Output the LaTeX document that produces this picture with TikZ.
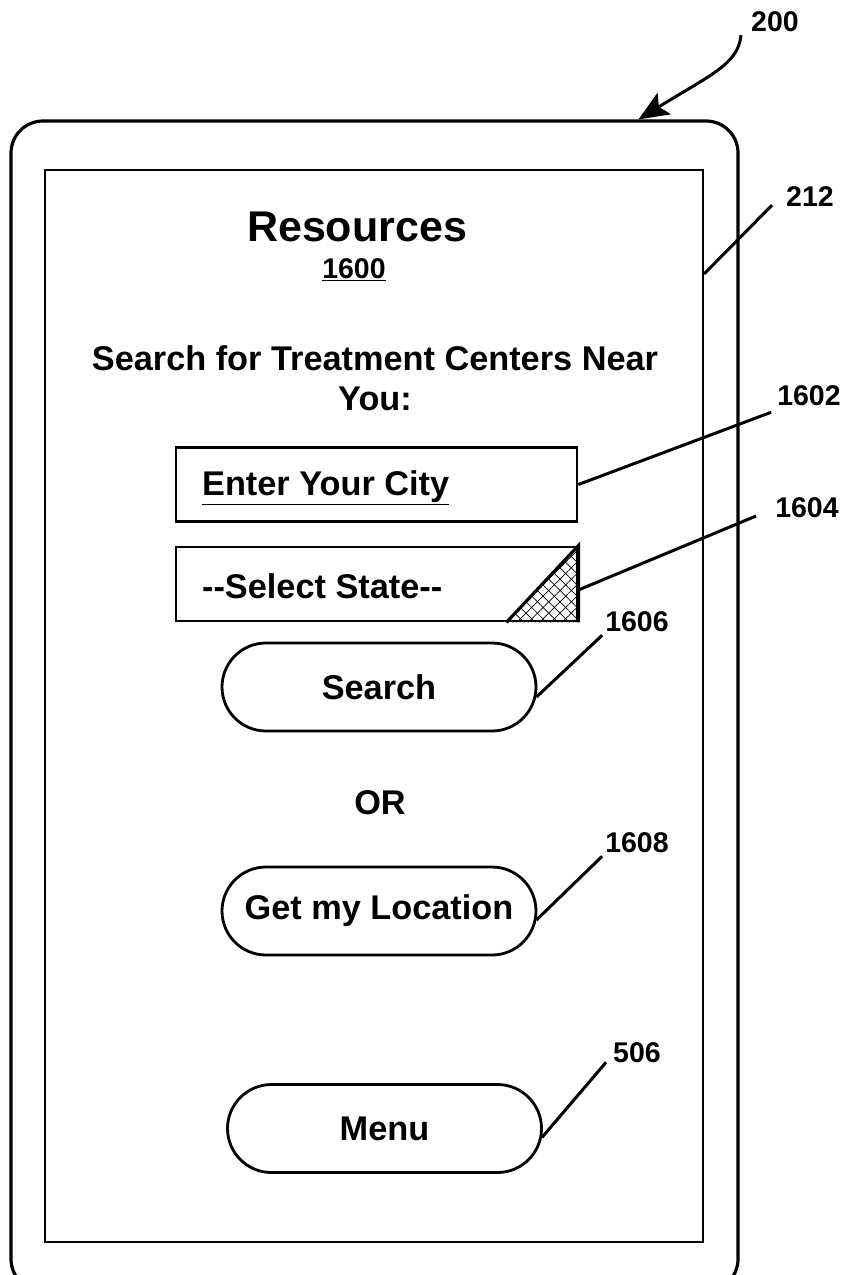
\documentclass[tikz,border=0pt]{standalone}
\usepackage{fontspec}
\setmainfont{Liberation Sans}
\usetikzlibrary{arrows.meta,patterns.meta,positioning}

\begin{document}
\begin{tikzpicture}[x=1pt,y=-1pt,
  every node/.style={font=\fontsize{34.3}{40}\bfseries},
  field/.style={draw,line width=2.8pt,minimum width=401pt,minimum height=74pt,inner sep=0pt},
  pill/.style={draw,line width=2.8pt,minimum width=314pt,minimum height=88pt,rounded corners=44pt},
  refnum/.style={font=\fontsize{28.5}{32}\bfseries,inner sep=3pt},
  leader/.style={line width=3pt}]
\useasboundingbox (0,0) rectangle (845,1275);
\clip (0,0) rectangle (845,1275);

% device and screen
\node[draw,line width=3.2pt,rounded corners=32pt,minimum width=727pt,minimum height=1170pt] (device) at (374.5,706) {};
\node[draw,line width=2.2pt,minimum width=658pt,minimum height=1072pt] (screen) at (374,706) {};

\node[font=\fontsize{43}{48}\bfseries] (title) at (357,227) {Resources};
\node[refnum] (fig) at (354,270) {\underline{1600}};
\node[align=center] (prompt) at (375,378) {Search for Treatment Centers Near\\You:};

% input fields
\node[field] (city) at (376.5,484.5) {};
\node[anchor=west] (citytxt) at ([xshift=24pt,yshift=-3pt]city.west) {\underline{Enter Your City}};
\node[field] (state) at (376.5,584) {};
\node[anchor=west] (statetxt) at ([xshift=24pt,yshift=-2pt]state.west) {\mbox{-}\mbox{-}Select State\mbox{-}\mbox{-}};
\fill[pattern={Lines[angle=45,distance=8pt,line width=0.7pt]}] (state.south east) -- (state.north east) -- ([xshift=-72pt]state.south east) -- cycle;
\fill[pattern={Lines[angle=-45,distance=8pt,line width=0.7pt]}] (state.south east) -- (state.north east) -- ([xshift=-72pt]state.south east) -- cycle;
\draw[line width=3.2pt] ([xshift=-72pt]state.south east) -- (state.north east) -- (state.south east);

% buttons
\node[pill] (search) at (379,687) {Search};
\node (or) at (380,803) {OR};
\node[pill] (locate) at (379,911) {Get my Location};
\node[pill] (menu) at (384.5,1128.5) {Menu};

% reference numerals
\node[refnum] (r200) at (775,22) {200};
\node[refnum,inner sep=6pt] (r212) at (810,197) {212};
\node[refnum,inner sep=6pt] (r1602) at (809,396) {1602};
\node[refnum] (r1604) at (807,508) {1604};
\node[refnum] (r1606) at (637,622) {1606};
\node[refnum] (r1608) at (637,843) {1608};
\node[refnum] (r506) at (637,1053) {506};

\draw[leader,-{Stealth[length=30pt,width=25pt,inset=6pt]}] ([xshift=-7pt]r200.south west) .. controls (738,64) and (712,74) .. ([xshift=264pt]device.north);
\draw[leader] ([yshift=-105pt]screen.north east) -- ([xshift=-8pt,yshift=8pt]r212.south west);
\draw[leader] (city.east) -- (r1602.south west);
\draw[leader] ([yshift=-6pt]state.east) -- ([xshift=-16pt,yshift=-8pt]r1604.west);
\draw[leader] ([xshift=-1pt,yshift=-10pt]search.east) -- (r1606.south west);
\draw[leader] ([xshift=-1pt,yshift=-9pt]locate.east) -- (r1608.south west);
\draw[leader] ([xshift=-1pt,yshift=-9pt]menu.east) -- ([xshift=-4pt,yshift=4pt]r506.south west);
\end{tikzpicture}
\end{document}
